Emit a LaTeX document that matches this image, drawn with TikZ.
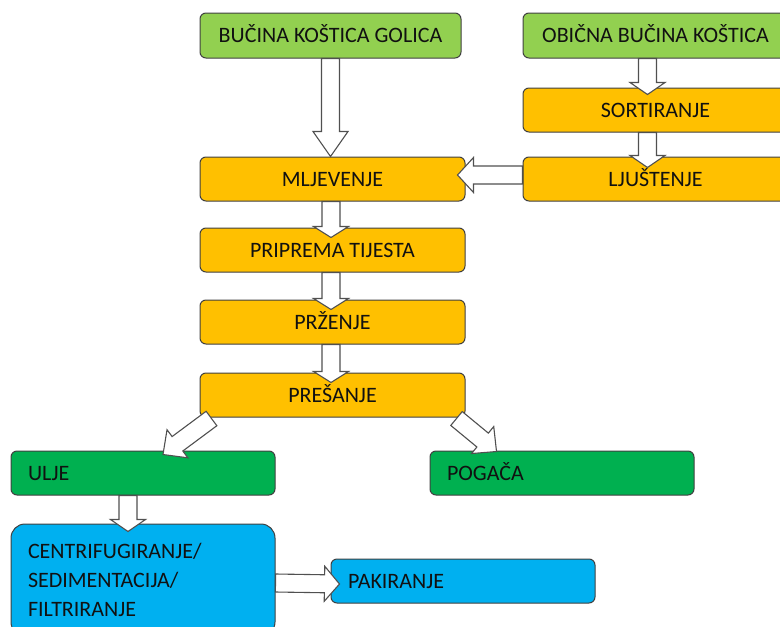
\documentclass[tikz,border=0pt]{standalone}
\usepackage{fontspec}
\setmainfont{Carlito}
\usetikzlibrary{calc}
\definecolor{lgreen}{HTML}{92D050}
\definecolor{orng}{HTML}{FFC000}
\definecolor{dgreen}{HTML}{00B050}
\definecolor{lblue}{HTML}{00B0F0}
\definecolor{bord}{HTML}{404040}
\definecolor{arrline}{HTML}{505050}
\definecolor{txt}{HTML}{111111}
\tikzset{
  box/.style={draw=bord, line width=1pt, rounded corners=6pt, minimum width=264pt,
    minimum height=44pt, inner sep=0pt, text=txt, font=\fontsize{22}{29}\selectfont,
    text height=14.2pt, text depth=0pt},
  lbox/.style={box, text width=230pt, align=left},
  blockarrow/.style={draw=arrline, line width=1.1pt, fill=white, line join=miter},
}
\newcommand\barrow[3]{%
  \coordinate (bt) at #1; \coordinate (bp) at #2;
  \coordinate (bh) at ($(bp)!#3!(bt)$);
  \draw[blockarrow] ($(bt)!9pt!90:(bp)$) -- ($(bh)!9pt!90:(bp)$) -- ($(bh)!17.5pt!90:(bp)$)
    -- (bp) -- ($(bh)!17.5pt!-90:(bp)$) -- ($(bh)!9pt!-90:(bp)$) -- ($(bt)!9pt!-90:(bp)$) -- cycle;}
\begin{document}
\begin{tikzpicture}[x=1pt, y=-1pt]
\useasboundingbox (0,0) rectangle (780,627);
\clip (0,0) rectangle (780,627);
\node[box, fill=lgreen, minimum width=261pt, minimum height=45pt] (golica) at (330.5,35.5) {BUČINA KOŠTICA GOLICA};
\node[box, fill=lgreen, minimum width=265pt, minimum height=45pt] (obicna) at (655.5,35.5) {OBIČNA BUČINA KOŠTICA};
\node[box, fill=orng, minimum width=265pt] (sort) at (655.5,110) {SORTIRANJE};
\node[box, fill=orng, minimum width=265pt] (ljus) at (655.5,179) {LJUŠTENJE};
\node[box, fill=orng, minimum width=265pt] (mlj) at (332.5,179) {MLJEVENJE};
\node[box, fill=orng, minimum width=265pt] (prip) at (332.5,250) {PRIPREMA TIJESTA};
\node[box, fill=orng, minimum width=265pt] (prz) at (332.5,322) {PRŽENJE};
\node[box, fill=orng, minimum width=265pt] (pres) at (332.5,395) {PREŠANJE};
\node[lbox, fill=dgreen] (ulje) at (143,473) {ULJE};
\node[lbox, fill=dgreen] (pog) at (562,473) {POGAČA};
\node[lbox, fill=lblue, rounded corners=14pt, minimum height=112pt, text height=, text depth=] (centr) at (143,580)
  {CENTRIFUGIRANJE/\\SEDIMENTACIJA/\\FILTRIRANJE};
\node[lbox, fill=lblue] (pak) at (463,581) {PAKIRANJE};
% arrows
\barrow{(golica.south)}{(mlj.north -| golica.south)}{25pt}
\barrow{([xshift=-8pt]obicna.south)}{([xshift=-8pt,yshift=-7pt]sort.north)}{12pt}
\barrow{([xshift=-8pt]sort.south)}{([xshift=-8pt,yshift=-11pt]ljus.north)}{12pt}
\barrow{([yshift=4pt]ljus.west)}{([xshift=-8pt,yshift=4pt]mlj.east)}{16pt}
\barrow{([xshift=-1.5pt]mlj.south)}{([xshift=-1.5pt,yshift=-10pt]prip.north)}{11pt}
\barrow{([xshift=-1.5pt]prip.south)}{([xshift=-1.5pt,yshift=-10pt]prz.north)}{11pt}
\barrow{([xshift=-1.5pt]prz.south)}{([xshift=-1.5pt,yshift=-10pt]pres.north)}{11pt}
\barrow{([shift={(12pt,-1pt)}]pres.south west)}{([shift={(20pt,-4pt)}]ulje.north)}{18pt}
\barrow{([shift={(-9pt,-1pt)}]pres.south east)}{([shift={(67pt,-1pt)}]pog.north west)}{18pt}
\barrow{([xshift=-15pt]ulje.south)}{([xshift=-15pt,yshift=-8pt]centr.north)}{12pt}
\barrow{([yshift=-3pt]centr.east)}{([shift={(9pt,-3pt)}]pak.west)}{15pt}
\end{tikzpicture}
\end{document}
